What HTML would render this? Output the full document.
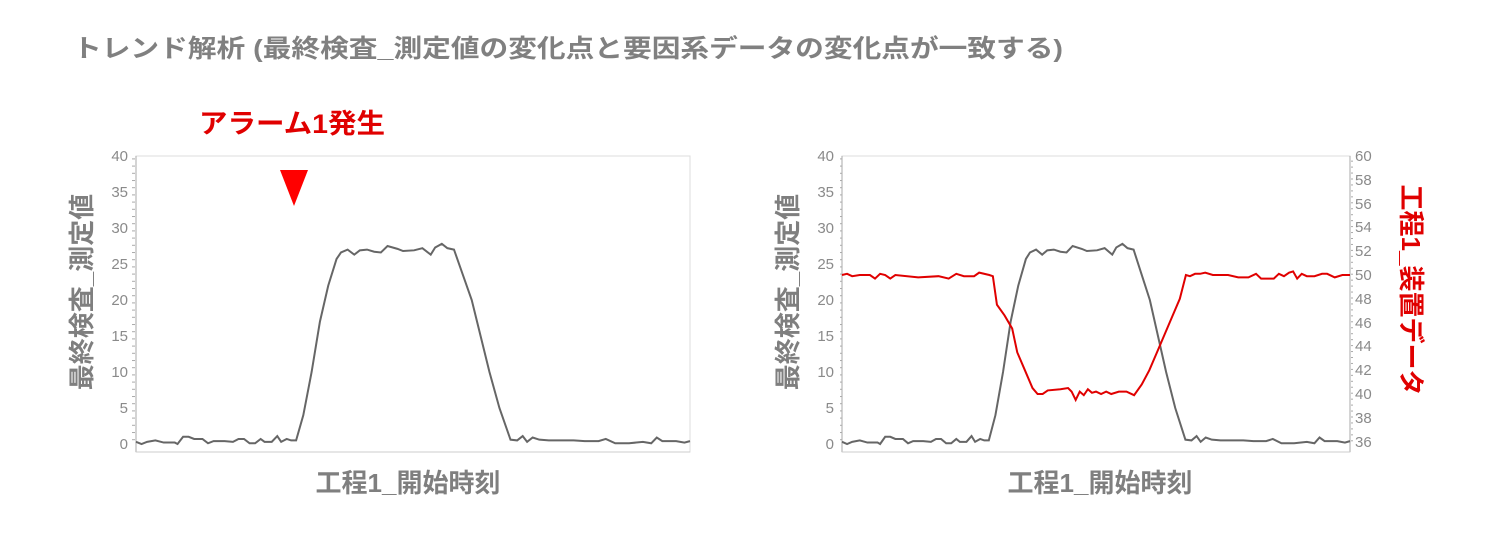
<!DOCTYPE html>
<html><head><meta charset="utf-8"><style>
html,body{margin:0;padding:0;background:#fff;width:1494px;height:541px;overflow:hidden}
svg{display:block}
text{font-family:"Liberation Sans","Noto Sans CJK JP",sans-serif}
.t{fill:#8a8a8a;font-size:15px}
.lab{fill:#7f7f7f;font-size:26px;font-weight:bold}
</style></head><body>
<svg width="1494" height="541" viewBox="0 0 1494 541">
<defs>
<pattern id="xt" width="8.4" height="6" patternUnits="userSpaceOnUse"><rect x="0" y="0" width="1" height="3" fill="#999"/></pattern>
<pattern id="ytl" width="6" height="7.2" patternUnits="userSpaceOnUse"><rect x="0" y="0" width="3" height="1" fill="#aaa"/></pattern>
<pattern id="ytr" width="6" height="5.95" patternUnits="userSpaceOnUse"><rect x="0" y="0" width="3" height="1" fill="#aaa"/></pattern>
</defs>
<text x="73" y="57" font-size="25" font-weight="bold" fill="#808080" textLength="990" lengthAdjust="spacingAndGlyphs">トレンド解析 (最終検査_測定値の変化点と要因系データの変化点が一致する)</text>
<text x="199" y="133" font-size="27" font-weight="bold" fill="#e00000" textLength="186" lengthAdjust="spacingAndGlyphs">アラーム1発生</text>
<polygon points="280,170 308,170 294,206" fill="#ff0000"/>

<!-- left chart -->
<rect x="136" y="156" width="554" height="296" fill="none" stroke="#ddd"/>
<line x1="136" y1="156" x2="136" y2="452" stroke="#aaa"/>
<line x1="136" y1="452" x2="690" y2="452" stroke="#ccc"/>
<rect x="137" y="453" width="553" height="3" fill="url(#xt)"/>
<rect x="132" y="156" width="4" height="289" fill="url(#ytl)"/>
<g class="t" text-anchor="end">
<text x="128" y="161">40</text><text x="128" y="197">35</text><text x="128" y="233">30</text><text x="128" y="269">25</text><text x="128" y="305">20</text><text x="128" y="341">15</text><text x="128" y="377">10</text><text x="128" y="413">5</text><text x="128" y="449">0</text>
</g>
<g transform="translate(136,444) scale(0.554,-7.2)">
<polyline id="g1" fill="none" stroke="#666" stroke-width="2" vector-effect="non-scaling-stroke" points="0,0.3 10,0.0 20,0.3 35,0.5 50,0.2 70,0.2 75,0 85,1.0 95,1.0 105,0.7 120,0.7 130,0.1 140,0.4 160,0.4 175,0.3 185,0.7 195,0.7 205,0.1 215,0.1 225,0.7 232,0.3 245,0.3 255,1.1 262,0.3 272,0.7 280,0.5 289,0.5 302,4 317,10 332,17 347,22 362,25.7 370,26.6 382,27 394,26.3 404,26.9 417,27 430,26.7 442,26.6 454,27.5 472,27.1 482,26.8 502,26.9 517,27.2 532,26.3 540,27.3 552,27.8 562,27.2 574,27.0 590,23.5 606,20 622,15 638,10 656,5 676,0.6 688,0.5 698,1.1 706,0.3 716,0.9 728,0.6 745,0.5 765,0.5 790,0.5 810,0.4 835,0.4 848,0.7 865,0.1 890,0.1 915,0.3 930,0.1 940,0.9 950,0.4 975,0.4 990,0.2 1000,0.4"/>
</g>
<text class="lab" transform="translate(91,292) rotate(-90)" text-anchor="middle">最終検査_測定値</text>
<text class="lab" x="408" y="492" text-anchor="middle">工程1_開始時刻</text>

<!-- right chart -->
<rect x="842" y="156" width="508" height="296" fill="none" stroke="#ddd"/>
<line x1="842" y1="156" x2="842" y2="452" stroke="#aaa"/>
<line x1="1350" y1="156" x2="1350" y2="452" stroke="#aaa"/>
<line x1="842" y1="452" x2="1350" y2="452" stroke="#ccc"/>
<rect x="843" y="453" width="507" height="3" fill="url(#xt)"/>
<rect x="838" y="156" width="4" height="289" fill="url(#ytl)"/>
<rect x="1351" y="156" width="4" height="286" fill="url(#ytr)"/>
<g class="t" text-anchor="end">
<text x="834" y="161">40</text><text x="834" y="197">35</text><text x="834" y="233">30</text><text x="834" y="269">25</text><text x="834" y="305">20</text><text x="834" y="341">15</text><text x="834" y="377">10</text><text x="834" y="413">5</text><text x="834" y="449">0</text>
</g>
<g class="t">
<text x="1355" y="161">60</text><text x="1355" y="185">58</text><text x="1355" y="209">56</text><text x="1355" y="232">54</text><text x="1355" y="256">52</text><text x="1355" y="280">50</text><text x="1355" y="304">48</text><text x="1355" y="328">46</text><text x="1355" y="351">44</text><text x="1355" y="375">42</text><text x="1355" y="399">40</text><text x="1355" y="423">38</text><text x="1355" y="447">36</text>
</g>
<g transform="translate(842,444) scale(0.508,-7.2)">
<use href="#g1"/>
</g>
<g transform="translate(842,870) scale(0.508,-11.9)">
<polyline fill="none" stroke="#e00000" stroke-width="2" vector-effect="non-scaling-stroke" points="0,50 10,50.1 20,49.9 35,50 55,50 65,49.7 75,50.1 85,50 95,49.7 105,50 150,49.8 190,49.9 210,49.7 225,50.1 240,49.9 260,49.9 270,50.2 290,50.0 297,49.9 305,47.5 320,46.6 335,45.5 345,43.5 360,42 375,40.5 385,40 395,40 405,40.3 430,40.4 445,40.5 452,40.2 460,39.5 468,40.2 476,39.9 484,40.4 492,40.1 500,40.2 510,40.0 520,40.2 530,40.0 545,40.2 560,40.2 575,39.9 590,40.8 605,42 620,43.5 635,45 650,46.5 665,48 677,50 685,49.9 695,50.1 705,50.1 715,50.2 730,50.0 760,50.0 780,49.8 800,49.8 815,50.1 825,49.7 850,49.7 860,50.1 870,49.9 880,50.2 888,50.3 896,49.7 905,50.1 915,49.9 930,49.9 945,50.1 955,50.1 970,49.8 985,50.0 1000,50"/>
</g>
<text class="lab" transform="translate(797,292) rotate(-90)" text-anchor="middle">最終検査_測定値</text>
<text class="lab" x="1100" y="492" text-anchor="middle">工程1_開始時刻</text>
<text class="lab" style="fill:#e00000" transform="translate(1402,290) rotate(90)" text-anchor="middle">工程1_装置データ</text>
</svg>
</body></html>
